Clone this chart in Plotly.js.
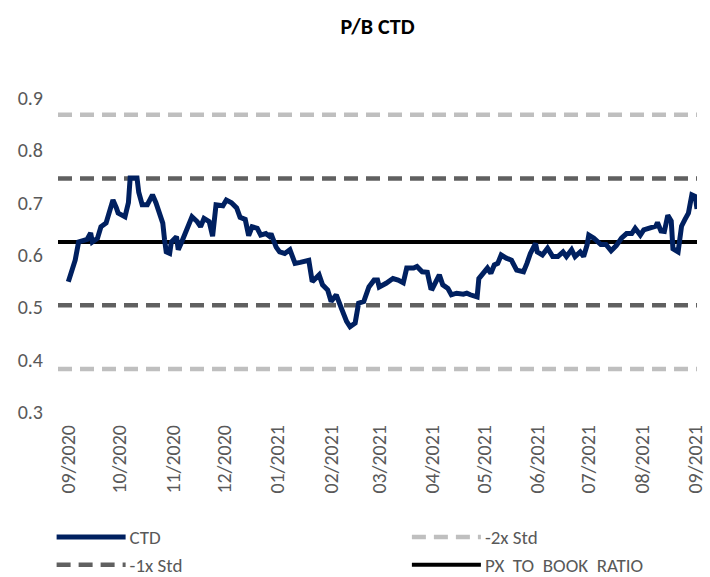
<!DOCTYPE html>
<html>
<head>
<meta charset="utf-8">
<script src="https://cdn.plot.ly/plotly-3.0.1.min.js"></script>
<style>
  html, body { margin: 0; padding: 0; background: #fff; }
  #chart { width: 710px; height: 577px; }
</style>
</head>
<body>
<div id="chart"></div>
<script>
// CTD price-to-book series
var dates = [
  '2020-09-01','2020-09-03','2020-09-05','2020-09-07','2020-09-10','2020-09-12','2020-09-14','2020-09-15',
  '2020-09-18','2020-09-20','2020-09-23','2020-09-27','2020-09-29','2020-09-30','2020-10-04','2020-10-06',
  '2020-10-07','2020-10-11','2020-10-12','2020-10-14','2020-10-17','2020-10-20','2020-10-22','2020-10-24',
  '2020-10-26','2020-10-27','2020-10-28','2020-10-30','2020-10-31','2020-11-03','2020-11-04','2020-11-06',
  '2020-11-09','2020-11-12','2020-11-15','2020-11-17','2020-11-19','2020-11-22','2020-11-24','2020-11-26',
  '2020-11-30','2020-12-02','2020-12-05','2020-12-08','2020-12-10','2020-12-13','2020-12-15','2020-12-17',
  '2020-12-20','2020-12-22','2020-12-25','2020-12-27','2020-12-28','2020-12-30','2020-12-31','2021-01-02',
  '2021-01-05','2021-01-08','2021-01-11','2021-01-14','2021-01-17','2021-01-19','2021-01-21','2021-01-23',
  '2021-01-25','2021-01-27','2021-01-30','2021-02-01','2021-02-04','2021-02-07','2021-02-10','2021-02-12',
  '2021-02-15','2021-02-17','2021-02-20','2021-02-23','2021-02-26','2021-02-28','2021-03-01','2021-03-05',
  '2021-03-09','2021-03-12','2021-03-15','2021-03-17','2021-03-21','2021-03-23','2021-03-26','2021-03-29',
  '2021-03-31','2021-04-01','2021-04-05','2021-04-07','2021-04-10','2021-04-12','2021-04-15','2021-04-19',
  '2021-04-21','2021-04-23','2021-04-27','2021-04-28','2021-05-01','2021-05-03','2021-05-05','2021-05-07',
  '2021-05-09','2021-05-11','2021-05-14','2021-05-17','2021-05-20','2021-05-24','2021-05-26','2021-05-28',
  '2021-05-31','2021-06-01','2021-06-04','2021-06-07','2021-06-10','2021-06-13','2021-06-16','2021-06-18',
  '2021-06-21','2021-06-23','2021-06-26','2021-06-28','2021-06-30','2021-07-01','2021-07-04','2021-07-08',
  '2021-07-11','2021-07-14','2021-07-17','2021-07-20','2021-07-23','2021-07-26','2021-07-28','2021-07-31',
  '2021-08-02','2021-08-06','2021-08-09','2021-08-10','2021-08-12','2021-08-14','2021-08-16','2021-08-18',
  '2021-08-19','2021-08-22','2021-08-24','2021-08-26','2021-08-28','2021-08-30','2021-09-01','2021-09-02'
];
var ctd = [
  0.549,0.570,0.590,0.625,0.628,0.630,0.642,0.625,
  0.632,0.654,0.661,0.705,0.690,0.680,0.673,0.700,
  0.747,0.747,0.720,0.696,0.696,0.715,0.700,0.677,
  0.661,0.630,0.606,0.603,0.625,0.635,0.610,0.625,
  0.651,0.673,0.664,0.654,0.670,0.664,0.636,0.696,
  0.694,0.705,0.700,0.690,0.672,0.668,0.637,0.654,
  0.651,0.638,0.641,0.636,0.641,0.625,0.615,0.606,
  0.603,0.610,0.584,0.586,0.588,0.590,0.549,0.555,
  0.562,0.543,0.533,0.511,0.524,0.498,0.473,0.463,
  0.470,0.508,0.511,0.539,0.552,0.552,0.539,0.546,
  0.555,0.552,0.547,0.575,0.575,0.578,0.568,0.567,
  0.537,0.536,0.562,0.543,0.536,0.524,0.527,0.525,
  0.527,0.524,0.520,0.555,0.565,0.575,0.565,0.581,
  0.584,0.600,0.594,0.590,0.571,0.568,0.584,0.603,
  0.622,0.606,0.600,0.613,0.597,0.597,0.606,0.597,
  0.610,0.597,0.606,0.597,0.619,0.638,0.632,0.620,
  0.620,0.608,0.618,0.632,0.641,0.641,0.651,0.638,
  0.648,0.652,0.655,0.662,0.646,0.645,0.676,0.665,
  0.612,0.606,0.655,0.668,0.680,0.715,0.712,0.688
];

// Horizontal reference levels
var refDates = ['2020-08-26', '2021-09-02'];
var meanLevel = 0.625;   // PX TO BOOK RATIO (average)
var plus1 = 0.746, minus1 = 0.504;
var plus2 = 0.868, minus2 = 0.382;

var xTickStart = '2020-09-01';
var yTicks = [0.3, 0.4, 0.5, 0.6, 0.7, 0.8, 0.9];

var FONT = 'Carlito, Lato, "Liberation Sans", sans-serif';
var NAVY = '#002060', LIGHT = '#BFBFBF', DARK = '#606060';

var traces = [
  { x: refDates, y: [plus2, plus2], name: '-2x Std', mode: 'lines', legend: 'legend2', legendrank: 1,
    line: { color: LIGHT, width: 4.5, dash: '14px,8px' } },
  { x: refDates, y: [minus2, minus2], name: '-2x Std', mode: 'lines', showlegend: false,
    line: { color: LIGHT, width: 4.5, dash: '14px,8px' } },
  { x: refDates, y: [plus1, plus1], name: '-1x Std', mode: 'lines', legend: 'legend', legendrank: 2,
    line: { color: DARK, width: 4.5, dash: '14px,8px' } },
  { x: refDates, y: [minus1, minus1], name: '-1x Std', mode: 'lines', showlegend: false,
    line: { color: DARK, width: 4.5, dash: '14px,8px' } },
  { x: refDates, y: [meanLevel, meanLevel], name: 'PX\u00a0\u00a0TO\u00a0\u00a0BOOK\u00a0\u00a0RATIO', mode: 'lines',
    legend: 'legend2', legendrank: 2, line: { color: '#000000', width: 4 } },
  { x: dates, y: ctd, name: 'CTD', mode: 'lines', legend: 'legend', legendrank: 1,
    line: { color: NAVY, width: 5 } }
];

var legendCommon = {
  orientation: 'v', xanchor: 'left', yanchor: 'top', y: -0.338,
  itemwidth: 68, traceorder: 'normal', tracegroupgap: 0,
  font: { family: FONT, size: 19, color: '#595959' }, bgcolor: 'rgba(0,0,0,0)', borderwidth: 0
};

var layout = {
  width: 710, height: 577,
  margin: { l: 58, r: 13, t: 98, b: 165, autoexpand: false },
  paper_bgcolor: '#ffffff', plot_bgcolor: '#ffffff',
  font: { family: FONT, color: '#595959', size: 19 },
  title: { text: '<b>P/B CTD</b>', x: 0.5, xref: 'paper', y: 0.955, yanchor: 'middle',
           font: { family: FONT, size: 22, color: '#000000' } },
  showlegend: true,
  legend: Object.assign({}, legendCommon, { x: -0.01 }),
  legend2: Object.assign({}, legendCommon, { x: 0.546 }),
  xaxis: {
    type: 'date', range: ['2020-08-26', '2021-09-02'],
    tick0: xTickStart, dtick: 'M1', tickformat: '%m/%Y', tickangle: -90,
    showgrid: false, zeroline: false, showline: false, ticks: 'outside', ticklen: 4, tickcolor: 'rgba(0,0,0,0)',
    tickfont: { family: FONT, size: 20, color: '#595959' }, fixedrange: true, automargin: false
  },
  yaxis: {
    range: [0.3, 0.9], tickvals: yTicks, ticktext: yTicks.map(function (v) { return v.toFixed(1); }),
    showgrid: false, zeroline: false, showline: false, ticks: 'outside', ticklen: 10, tickcolor: 'rgba(0,0,0,0)',
    tickfont: { family: FONT, size: 20, color: '#595959' }, fixedrange: true, automargin: false
  }
};

Plotly.newPlot('chart', traces, layout, { displayModeBar: false, staticPlot: true }).then(function (gd) {
  // lengthen the legend line samples to match the reference
  gd.querySelectorAll('.legendlines path').forEach(function (p) {
    p.setAttribute('d', 'M5,0h69');
  });
});
</script>
</body>
</html>
